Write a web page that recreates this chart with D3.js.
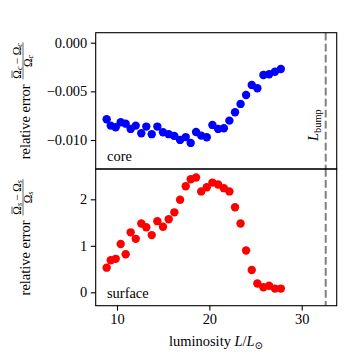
<!DOCTYPE html>
<html><head><meta charset="utf-8">
<script src="https://cdn.jsdelivr.net/npm/d3@7"></script>
<style>
body{margin:0;background:#fff}
svg{display:block}
</style>
</head><body><svg id="c" width="347" height="356"></svg>
<script>
const luminosity = [8.88,9.32,9.86,10.40,10.94,11.48,12.03,12.63,13.17,13.76,14.37,14.98,15.60,16.21,16.83,17.44,17.98,18.56,19.12,19.72,20.33,20.95,21.57,22.17,22.78,23.38,23.98,24.59,25.20,25.85,26.47,27.10,27.74];
const coreError = [-0.00786,-0.00852,-0.00869,-0.00817,-0.00832,-0.00886,-0.00852,-0.00930,-0.00862,-0.00940,-0.00862,-0.00920,-0.00940,-0.00958,-0.00999,-0.00970,-0.01030,-0.00917,-0.00955,-0.00971,-0.00845,-0.00886,-0.00879,-0.00801,-0.00715,-0.00629,-0.00537,-0.00434,-0.00468,-0.00332,-0.00324,-0.00298,-0.00270];
const surfaceError = [0.53,0.69,0.72,1.04,0.82,1.29,1.15,1.48,1.40,1.23,1.53,1.41,1.57,1.72,1.99,2.28,2.43,2.47,2.17,2.26,2.36,2.32,2.24,2.17,1.83,1.48,0.90,0.48,0.19,0.11,0.14,0.08,0.08];
const lBump = 32.6;
const xTicks = [10, 20, 30];
const coreTicks = [0, -0.005, -0.010];
const surfaceTicks = [0, 1, 2];

const FAM = "'Liberation Serif', 'DejaVu Serif', serif";
const svg = d3.select("#c");

const probe = svg.append("text").attr("font-family",FAM).attr("font-size",14).text("relative error");
const pw = probe.node().getComputedTextLength();
probe.remove();
const FS = Math.min(15, 14 * 75 / pw);
const SS = FS * 0.72;
const FR = FS * 0.8;

const L = 95.7, R = 336.7, T1 = 32.7, M = 169, B2 = 305.7;

const x = d3.scaleLinear().domain([7.693, 33.79]).range([L, R]);
const yTop = d3.scaleLinear().domain([-0.01298, 0.001028]).range([M, T1]);
const yBot = d3.scaleLinear().domain([-0.288, 2.652]).range([B2, M]);

const tick = 4.9, pad = 3.5;

function styleAxis(g){
  g.attr("font-family",FAM).attr("font-size",FS);
  g.select(".domain").remove();
  g.selectAll(".tick line").attr("stroke","#000").attr("stroke-width",1.1);
  g.selectAll(".tick text").attr("fill","#000");
}

svg.append("g").attr("transform",`translate(${L},0)`)
  .call(d3.axisLeft(yTop).tickValues(coreTicks).tickSize(tick).tickPadding(pad).tickFormat(d3.format(".3f")))
  .call(styleAxis);
svg.append("g").attr("transform",`translate(${L},0)`)
  .call(d3.axisLeft(yBot).tickValues(surfaceTicks).tickSize(tick).tickPadding(pad).tickFormat(d3.format("d")))
  .call(styleAxis);
svg.append("g").attr("transform",`translate(0,${B2})`)
  .call(d3.axisBottom(x).tickValues(xTicks).tickSize(tick).tickPadding(pad).tickFormat(d3.format("d")))
  .call(styleAxis);

[[T1,M],[M,B2]].forEach(([a,b])=>{
  svg.append("line").attr("x1",x(lBump)).attr("x2",x(lBump)).attr("y1",a).attr("y2",b)
    .attr("stroke","#808080").attr("stroke-width",2).attr("stroke-dasharray","7.7,3.3");
});

svg.append("g").selectAll("circle").data(luminosity).join("circle")
  .attr("cx",d=>x(d)).attr("cy",(d,i)=>yTop(coreError[i])).attr("r",4.2).attr("fill","#0000ff");
svg.append("g").selectAll("circle").data(luminosity).join("circle")
  .attr("cx",d=>x(d)).attr("cy",(d,i)=>yBot(surfaceError[i])).attr("r",4.2).attr("fill","#ff0000");

[[T1,M],[M,B2]].forEach(([a,b])=>{
  svg.append("rect").attr("x",L).attr("y",a).attr("width",R-L).attr("height",b-a)
    .attr("fill","none").attr("stroke","#000").attr("stroke-width",1.1);
});

const txt = () => svg.append("text").attr("font-family",FAM).attr("font-size",FS).attr("fill","#000");

txt().attr("x",107).attr("y",161).text("core");
txt().attr("x",107).attr("y",298).text("surface");

const lb = txt().attr("transform",`translate(${x(lBump)-7.5},141) rotate(-90)`);
lb.append("tspan").attr("font-style","italic").text("L");
lb.append("tspan").attr("font-size",SS).attr("dy",3).text("bump");

const xl = txt().attr("x",(L+R)/2).attr("y",346).attr("text-anchor","middle");
xl.append("tspan").text("luminosity ");
xl.append("tspan").attr("font-style","italic").text("L");
xl.append("tspan").text("/");
xl.append("tspan").attr("font-style","italic").text("L");
xl.append("tspan").attr("font-size",SS).attr("dy",3).text("⊙");

function yLabel(cy, sub, denSub){
  const g = svg.append("g").attr("transform",`translate(0,${cy}) rotate(-90)`)
    .attr("font-family",FAM).attr("fill","#000");
  const t1 = g.append("text").attr("font-size",FS).attr("y",29.5).text("relative error");
  const w1 = t1.node().getComputedTextLength();
  const num = g.append("text").attr("font-size",FR).attr("y",20.5);
  num.append("tspan").text("Ω");
  num.append("tspan").attr("font-size",FR*0.7).attr("font-style","italic").attr("dy",1.6).text(sub);
  num.append("tspan").attr("dy",-1.6).text("\u2009−\u2009Ω");
  num.append("tspan").attr("font-size",FR*0.7).attr("font-style","italic").attr("dy",1.6).text(sub);
  const den = g.append("text").attr("font-size",FR).attr("y",31.5);
  den.append("tspan").text("Ω");
  den.append("tspan").attr("font-size",FR*0.7).attr("font-style","italic").attr("dy",1.6).text(denSub);
  const nw = num.node().getComputedTextLength();
  const dw = den.node().getComputedTextLength();
  const ow = num.node().getSubStringLength(0,1);
  const fw = Math.max(nw,dw)+1.5;
  const gap = 5;
  const W = w1 + gap + fw;
  const u0 = -W/2;
  t1.attr("x",u0);
  const fx = u0 + w1 + gap;
  g.append("line").attr("x1",fx).attr("x2",fx+fw).attr("y1",23).attr("y2",23).attr("stroke","#000").attr("stroke-width",0.6);
  const ox = fx + (fw-nw)/2;
  num.attr("x",ox);
  den.attr("x",fx + (fw-dw)/2);
  g.append("line").attr("x1",ox+0.5).attr("x2",ox+ow-0.5).attr("y1",12).attr("y2",12).attr("stroke","#000").attr("stroke-width",0.6);
}
yLabel((T1+M)/2, "c", "c");
yLabel((M+B2)/2, "s", "s");
</script>
</body></html>
